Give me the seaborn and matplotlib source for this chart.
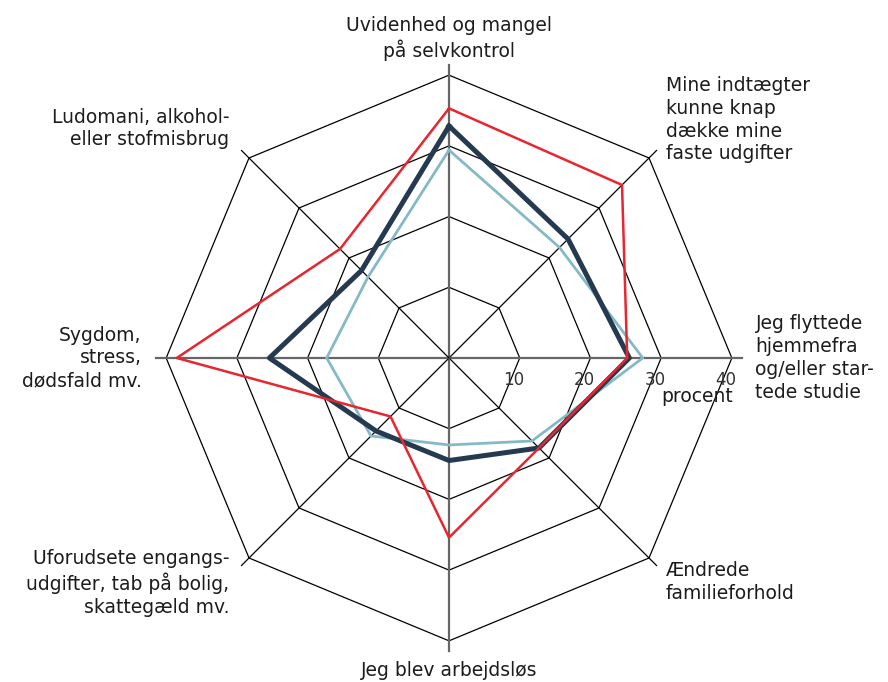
import numpy as np
import pandas as pd
import matplotlib.pyplot as plt
import seaborn as sns

# kategorier, med uret fra toppen
kategorier = [
    "Uvidenhed og mangel\npå selvkontrol",
    "Mine indtægter\nkunne knap\ndække mine\nfaste udgifter",
    "Jeg flyttede\nhjemmefra\nog/eller star-\ntede studie",
    "Ændrede\nfamilieforhold",
    "Jeg blev arbejdsløs",
    "Uforudsete engangs-\nudgifter, tab på bolig,\nskattegæld mv.",
    "Sygdom,\nstress,\ndødsfald mv.",
    "Ludomani, alkohol-\neller stofmisbrug",
]
serie_lys = [29.4, 22.1, 27.4, 16.6, 12.3, 15.6, 17.3, 16.2]
serie_mork = [32.8, 23.8, 25.5, 18.0, 14.5, 14.6, 25.4, 17.5]
serie_rod = [35.3, 34.6, 25.2, 18.0, 25.4, 11.7, 38.5, 21.8]
niveauer = [10, 20, 30, 40]
farver = {"lys": "#86b9c6", "mork": "#253a50", "rod": "#e8262f"}
bredder = {"lys": 2.0, "mork": 3.6, "rod": 1.8}

vinkler = np.linspace(0, 2 * np.pi, len(kategorier), endpoint=False)
luk = np.append(vinkler, vinkler[0])
rows = []
for navn, vals in [("lys", serie_lys), ("mork", serie_mork), ("rod", serie_rod)]:
    for i, v in enumerate(vals + vals[:1]):
        rows.append({"serie": navn, "vinkel": luk[i], "procent": v})
df = pd.DataFrame(rows)

tekst = "#1c1c1c"
plt.rcParams["font.family"] = ["DejaVu Sans"]

fig = plt.figure(figsize=(8.88, 6.82), dpi=100)
ax = fig.add_axes([0.1712, 0.0396, 0.6689, 0.871], projection="polar")
ax.set_theta_zero_location("N")
ax.set_theta_direction(-1)
ax.set_ylim(0, 42)
ax.grid(False)
ax.set_xticks([])
ax.set_yticks([])
ax.spines["polar"].set_visible(False)

# ottekantet gitter
for lev in niveauer:
    ax.plot(luk, [lev] * len(luk), color="black", lw=0.9, zorder=1)
for i, t in enumerate(vinkler):
    if i % 2 == 0:
        ax.plot([t, t], [0, 41.5], color="#666666", lw=1.6, zorder=1)
    else:
        ax.plot([t, t], [0, 41.5], color="black", lw=0.9, zorder=1)

sns.lineplot(data=df, x="vinkel", y="procent", hue="serie", size="serie",
             palette=farver, sizes=bredder, hue_order=["lys", "mork", "rod"],
             sort=False, estimator=None, legend=False, ax=ax, zorder=3)
ax.set_xlabel("")
ax.set_ylabel("")

# akseetiketter (forskydning i pixels)
pl = [
    ((0, 4), "center", "bottom"),
    ((9, -13), "left", "bottom"),
    ((13, 0), "left", "center"),
    ((9, 4), "left", "top"),
    ((0, -10), "center", "top"),
    ((-12, 16), "right", "top"),
    ((-14, 0), "right", "center"),
    ((-12, 1), "right", "bottom"),
]
for t, lab, (off, ha, va) in zip(vinkler, kategorier, pl):
    ax.annotate(lab, xy=(t, 41.5), xytext=(off[0] * 0.72, off[1] * 0.72),
                textcoords="offset points", ha=ha, va=va, multialignment=ha,
                fontsize=13.5, color=tekst, linespacing=1.25, annotation_clip=False)

for lev in niveauer:
    ax.annotate(str(lev), xy=(0.5 * np.pi, lev - 0.9), xytext=(0, -22 * 0.72),
                textcoords="offset points", ha="center", va="center",
                fontsize=12, color="#333333", annotation_clip=False)
ax.annotate("procent", xy=(0.5 * np.pi, 40), xytext=(-35 * 0.72, -39 * 0.72),
            textcoords="offset points", ha="center", va="center",
            fontsize=13.5, color=tekst, annotation_clip=False)

fig.savefig("out.png", dpi=100)
